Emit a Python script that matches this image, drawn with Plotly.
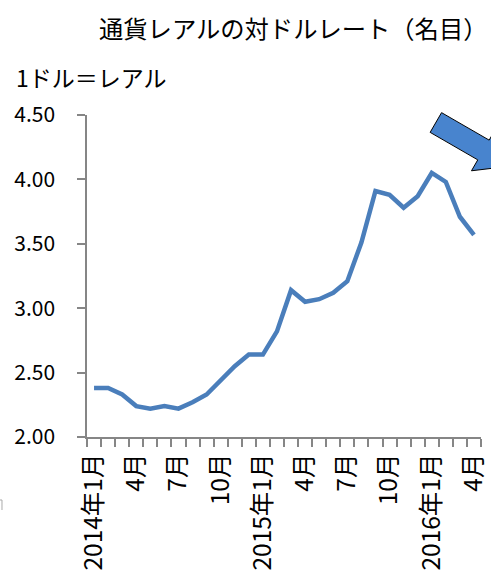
import math
import plotly.graph_objects as go

# ---- data ----
months = ["2014年1月", "2月", "3月", "4月", "5月", "6月", "7月", "8月", "9月", "10月", "11月", "12月",
          "2015年1月", "2月", "3月", "4月", "5月", "6月", "7月", "8月", "9月", "10月", "11月", "12月",
          "2016年1月", "2月", "3月", "4月"]
rate = [2.38, 2.38, 2.33, 2.24, 2.22, 2.24, 2.22, 2.27, 2.33, 2.44, 2.55, 2.64,
        2.64, 2.82, 3.14, 3.05, 3.07, 3.12, 3.21, 3.51, 3.91, 3.88, 3.78, 3.87,
        4.05, 3.98, 3.71, 3.57]
y_ticks = [2.0, 2.5, 3.0, 3.5, 4.0, 4.5]
title_text = "通貨レアルの対ドルレート（名目）"
y_title = "1ドル＝レアル"

FONT = "Noto Sans CJK JP"
W, H = 491, 580
ML, MR, MT, MB = 87, 10, 115, 143
PW, PH = W - ML - MR, H - MT - MB

def px(x, y):
    return (x - ML) / PW, 1 - (y - MT) / PH

idx = list(range(len(months)))
label_idx = idx[::3]

fig = go.Figure()
fig.add_trace(go.Scatter(x=idx, y=rate, mode="lines",
                         line=dict(color="#4a7ebb", width=4.5),
                         hoverinfo="skip", showlegend=False))

axis_col = "#868686"
fig.update_layout(
    width=W, height=H,
    margin=dict(l=ML, r=MR, t=MT, b=MB, autoexpand=False),
    paper_bgcolor="white", plot_bgcolor="white",
    font=dict(family=FONT, color="black", size=22),
    showlegend=False,
    xaxis=dict(range=[-0.5, len(months) - 0.5], tickmode="array",
               tickvals=label_idx, ticktext=[months[i] for i in label_idx],
               tickangle=-90, ticks="", showgrid=False, zeroline=False,
               showline=True, linecolor=axis_col, linewidth=1.5,
               ticklabelstandoff=5, automargin=False,
               tickfont=dict(family=FONT, size=24.5, color="black"),
               minor=dict(tickmode="array",
                          tickvals=[i - 0.5 for i in range(len(months) + 1)],
                          ticks="outside", ticklen=8, tickwidth=1.5,
                          tickcolor=axis_col, showgrid=False)),
    yaxis=dict(range=[2.0, 4.5], tickmode="array", tickvals=y_ticks,
               tickformat=".2f", ticks="outside", ticklen=8, tickwidth=1.5,
               tickcolor=axis_col, showgrid=False, zeroline=False,
               showline=True, linecolor=axis_col, linewidth=1.5,
               ticklabelstandoff=18, automargin=False,
               tickfont=dict(family=FONT, size=21, color="black")),
)

# title
tx, ty = px(97, 28)
fig.add_annotation(text=title_text, xref="paper", yref="paper", x=tx, y=ty,
                   xanchor="left", yanchor="middle", showarrow=False,
                   font=dict(family=FONT, size=24.3, color="black"))
# y axis title
ax_, ay_ = px(14, 77)
fig.add_annotation(text=y_title, xref="paper", yref="paper", x=ax_, y=ay_,
                   xanchor="left", yanchor="middle", showarrow=False,
                   font=dict(family=FONT, size=23, color="black"))

# decorative block arrow
cx, cy = 435.85, 122.5
ang = math.radians(30)
d = (math.cos(ang), math.sin(ang))
n = (-math.sin(ang), math.cos(ang))
bw, bl, hw, hl = 11.4, 55, 24, 32
def pt(a, b):
    return px(cx + d[0] * a + n[0] * b, cy + d[1] * a + n[1] * b)
pts = [pt(0, -bw), pt(bl, -bw), pt(bl, -hw), pt(bl + hl, 0), pt(bl, hw), pt(bl, bw), pt(0, bw)]
path = "M " + " L ".join(f"{p[0]:.5f},{p[1]:.5f}" for p in pts) + " Z"
fig.add_shape(type="path", path=path, xref="paper", yref="paper",
              fillcolor="#4884ce", line=dict(color="black", width=1))

# small stray mark at left edge
a1 = px(0, 500); a2 = px(2, 500); a3 = px(2, 510)
fig.add_shape(type="path", xref="paper", yref="paper",
              path=f"M {a1[0]:.5f},{a1[1]:.5f} L {a2[0]:.5f},{a2[1]:.5f} L {a3[0]:.5f},{a3[1]:.5f}",
              line=dict(color="#aaaaaa", width=1))

fig.write_html("out.html", config={"displayModeBar": False},
               post_script="document.body.style.margin='0';document.body.style.overflow='hidden';")
